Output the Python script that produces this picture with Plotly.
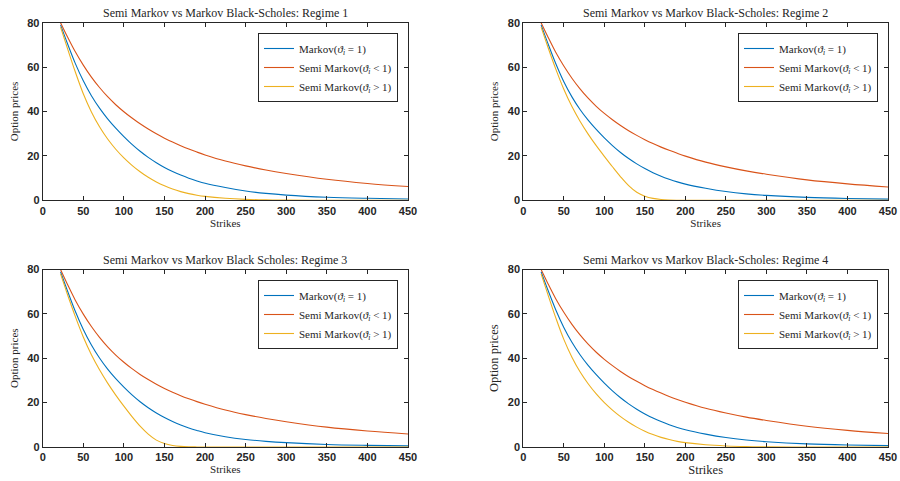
import plotly.graph_objects as go
from plotly.subplots import make_subplots

# ---------------- data ----------------
strikes = [22, 30, 40, 50, 60, 70, 80, 90, 100, 110, 120, 130, 140, 150,
           160, 170, 180, 190, 200, 225, 250, 275, 300, 350, 400, 450]

r1_markov  = [79, 71.1, 61.8, 53.8, 47.1, 41.5, 36.7, 32.5, 28.7, 25.2, 22.1, 19.35, 16.95, 14.8,
              12.95, 11.35, 9.95, 8.73, 7.67, 5.75, 4.2, 3.1, 2.35, 1.4, 0.9, 0.6]
r1_semi_lt = [80, 74.0, 67.0, 60.9, 55.5, 50.8, 46.65, 43.05, 39.9, 37.05, 34.45, 32.1, 29.95, 28.0,
              26.22, 24.6, 23.1, 21.72, 20.45, 17.7, 15.5, 13.65, 12.1, 9.5, 7.6, 6.2]
r1_semi_gt = [78, 69, 58, 48, 39.8, 33.1, 27.6, 23.0, 19.1, 15.75, 12.85, 10.35, 8.25, 6.5,
              5.05, 3.9, 3.0, 2.3, 1.78, 0.93, 0.43, 0.18, 0.06, 0.01, 0, 0]

r2_markov  = [79, 71.0, 61.6, 53.4, 46.6, 40.9, 36.1, 31.9, 28.1, 24.65, 21.55, 18.8, 16.4, 14.3,
              12.45, 10.85, 9.5, 8.3, 7.3, 5.45, 3.95, 2.9, 2.2, 1.3, 0.82, 0.55]
r2_semi_lt = [80, 73.9, 66.7, 60.5, 55.0, 50.2, 46.0, 42.35, 39.15, 36.3, 33.7, 31.35, 29.25, 27.3,
              25.55, 23.95, 22.5, 21.15, 19.9, 17.2, 15.05, 13.25, 11.75, 9.2, 7.4, 6.0]
r2_semi_gt = [78, 69.4, 59.2, 50.0, 42.2, 35.6, 29.8, 24.6, 19.8, 15.1, 10.6, 6.6, 3.6, 1.85,
              0.85, 0.35, 0.13, 0.05, 0.02, 0, 0, 0, 0, 0, 0, 0]

r3_markov  = [79, 70.9, 61.3, 53.0, 46.0, 40.1, 35.1, 30.8, 27.0, 23.5, 20.4, 17.7, 15.35, 13.3,
              11.5, 9.95, 8.6, 7.45, 6.45, 4.65, 3.4, 2.55, 1.95, 1.15, 0.75, 0.5]
r3_semi_lt = [80, 73.7, 66.3, 59.9, 54.3, 49.4, 45.15, 41.45, 38.2, 35.3, 32.7, 30.4, 28.3, 26.4,
              24.7, 23.15, 21.75, 20.45, 19.3, 16.7, 14.6, 12.85, 11.4, 8.95, 7.2, 5.85]
r3_semi_gt = [78, 69.3, 59.0, 49.6, 41.6, 34.8, 28.8, 23.4, 18.4, 13.7, 9.4, 5.8, 3.1, 1.55,
              0.7, 0.28, 0.1, 0.03, 0.0, 0, 0, 0, 0, 0, 0, 0]

r4_markov  = [79, 71.1, 61.9, 53.9, 47.2, 41.6, 36.8, 32.6, 28.8, 25.3, 22.2, 19.45, 17.05, 14.9,
              13.05, 11.45, 10.05, 8.8, 7.75, 5.8, 4.25, 3.15, 2.4, 1.42, 0.9, 0.6]
r4_semi_lt = [80, 73.95, 66.85, 60.7, 55.25, 50.5, 46.35, 42.7, 39.5, 36.65, 34.05, 31.7, 29.6, 27.65,
              25.9, 24.3, 22.8, 21.45, 20.2, 17.45, 15.3, 13.45, 11.95, 9.35, 7.5, 6.1]
r4_semi_gt = [78, 69.1, 58.3, 48.5, 40.5, 33.9, 28.5, 23.9, 20.0, 16.65, 13.7, 11.15, 8.95, 7.1,
              5.6, 4.35, 3.35, 2.55, 1.95, 1.0, 0.48, 0.2, 0.07, 0.01, 0, 0]

titles = ["Semi Markov vs Markov Black-Scholes: Regime 1",
          "Semi Markov vs Markov Black-Scholes: Regime 2",
          "Semi Markov vs Markov Black Scholes: Regime 3",
          "Semi Markov vs Markov Black-Scholes: Regime 4"]

series_names = ["Markov(<i>ϑ</i><sub><i>i</i></sub> = 1)",
                "Semi Markov(<i>ϑ</i><sub><i>i</i></sub> < 1)",
                "Semi Markov(<i>ϑ</i><sub><i>i</i></sub> > 1)"]
series_colors = ["#0072BD", "#D95319", "#EDB120"]

regimes = [
    (r1_markov, r1_semi_lt, r1_semi_gt),
    (r2_markov, r2_semi_lt, r2_semi_gt),
    (r3_markov, r3_semi_lt, r3_semi_gt),
    (r4_markov, r4_semi_lt, r4_semi_gt),
]

x_ticks = [0, 50, 100, 150, 200, 250, 300, 350, 400, 450]
y_ticks = [0, 20, 40, 60, 80]

# ---------------- figure ----------------
W, H = 900, 481
fig = make_subplots(rows=2, cols=2)

# plot-area pixel boxes: (left, right, top, bottom)
boxes = [(42.7, 408, 22.7, 200.3), (523.3, 888, 22.7, 200.3),
         (42.7, 408, 269.5, 447), (523.3, 888, 269.5, 447)]
legend_pos = [(398, 33), (878, 33), (398, 280), (878, 280)]
label_sizes = [11, 11, 11, 12.5]

ink = "#262626"
serif = "Liberation Serif"

for k, (vals, (l, r, t, b)) in enumerate(zip(regimes, boxes)):
    row, col = k // 2 + 1, k % 2 + 1
    lg = "legend" if k == 0 else f"legend{k+1}"
    for name, color, y in zip(series_names, series_colors, vals):
        fig.add_trace(go.Scatter(
            x=strikes, y=y, mode="lines", name=name,
            line=dict(color=color, width=1.1, shape="spline", smoothing=1.0),
            legend=lg, showlegend=True), row=row, col=col)

    xa = "xaxis" if k == 0 else f"xaxis{k+1}"
    ya = "yaxis" if k == 0 else f"yaxis{k+1}"
    fig.layout[xa].update(
        domain=[l / W, r / W], range=[0, 450], tickvals=x_ticks, automargin=False,
        ticks="inside", ticklen=4, tickcolor=ink, mirror="ticks",
        showline=True, linecolor=ink, linewidth=1, showgrid=False, zeroline=False,
        tickfont=dict(family="Liberation Sans", size=11, color=ink, weight="bold"),
        title=dict(text="Strikes", font=dict(family=serif, size=label_sizes[k], color=ink),
                   standoff=3))
    fig.layout[ya].update(
        domain=[1 - b / H, 1 - t / H], range=[0, 80], tickvals=y_ticks, automargin=False,
        ticks="inside", ticklen=4, tickcolor=ink, mirror="ticks",
        showline=True, linecolor=ink, linewidth=1,
        showgrid=False, zeroline=False,
        tickfont=dict(family="Liberation Sans", size=11, color=ink, weight="bold"),
        title=dict(text="Option prices", font=dict(family=serif, size=label_sizes[k], color=ink),
                   standoff=6))

    lx, ly = legend_pos[k]
    fig.layout[lg] = dict(
        x=lx / W, xanchor="right", y=1 - ly / H, yanchor="top",
        bgcolor="white", bordercolor=ink, borderwidth=1,
        font=dict(family=serif, size=11, color=ink),
        tracegroupgap=0, itemwidth=30)

    fig.add_annotation(
        text=titles[k], x=(l + r) / 2 / W, y=1 - (t - 10) / H,
        xref="paper", yref="paper", xanchor="center", yanchor="middle",
        showarrow=False, font=dict(family=serif, size=12, color=ink))

fig.update_layout(
    width=W, height=H, margin=dict(l=0, r=0, t=0, b=0, autoexpand=False),
    paper_bgcolor="white", plot_bgcolor="white", showlegend=True)

fig.write_html("out.html")
